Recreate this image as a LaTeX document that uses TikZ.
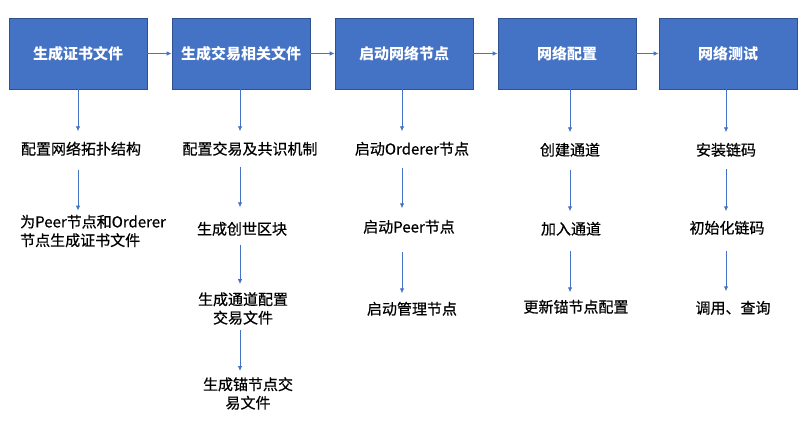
\documentclass[tikz,border=0pt]{standalone}
\usepackage{fontspec}
\setmainfont{Noto Sans CJK SC}
\newfontfamily\bodyfont{Noto Sans CJK SC}[FakeBold=0.6]
\usetikzlibrary{arrows.meta}
\definecolor{boxblue}{HTML}{4472C4}
\definecolor{boxedge}{HTML}{2F528F}
\tikzset{
  stagebox/.style={draw=boxedge, line width=0.8pt, fill=boxblue, minimum width=138pt, minimum height=71pt, inner sep=0pt, text=white, font=\fontsize{15pt}{18pt}\selectfont\bfseries},
  steptext/.style={inner sep=0pt, text height=12pt, text depth=3pt, font=\bodyfont\fontsize{15pt}{19pt}\selectfont, align=center},
  steptwo/.style={inner sep=0pt, font=\bodyfont\fontsize{15pt}{18.5pt}\selectfont, align=center},
  flow/.style={draw=boxblue, line width=0.9pt, -{Latex[length=5pt,width=4.5pt]}}
}
\begin{document}
\begin{tikzpicture}[x=1pt,y=-1pt]
\useasboundingbox (0,0) rectangle (808,433);
% stage boxes
\node[stagebox] (b1) at (78,53.5) {生成证书文件};
\node[stagebox] (b2) at (241,53.5) {生成交易相关文件};
\node[stagebox] (b3) at (404,53.5) {启动网络节点};
\node[stagebox] (b4) at (567,53.5) {网络配置};
\node[stagebox] (b5) at (728,53.5) {网络测试};
\draw[flow] (b1) -- (b2);
\draw[flow] (b2) -- (b3);
\draw[flow] (b3) -- (b4);
\draw[flow] (b4) -- (b5);
% column 1
\node[steptext] (t11) at (81,150) {配置网络拓扑结构};
\node[steptwo, align=left, anchor=west] (t12) at (20,231) {为Peer节点和Orderer\\节点生成证书文件};
% column 2
\node[steptext] (t21) at (250,150) {配置交易及共识机制};
\node[steptext] (t22) at (242,230) {生成创世区块};
\node[steptwo] (t23) at (243,308.5) {生成通道配置\\交易文件};
\node[steptwo] (t24) at (248,393.5) {生成锚节点交\\易文件};
% column 3
\node[steptext] (t31) at (412,150) {启动Orderer节点};
\node[steptext] (t32) at (409,228) {启动Peer节点};
\node[steptext] (t33) at (412,310) {启动管理节点};
% column 4
\node[steptext] (t41) at (570,151) {创建通道};
\node[steptext] (t42) at (571,230) {加入通道};
\node[steptext] (t43) at (576,308) {更新锚节点配置};
% column 5
\node[steptext] (t51) at (726,151) {安装链码};
\node[steptext] (t52) at (727,229) {初始化链码};
\node[steptext] (t53) at (733,309) {调用、查询};
% vertical arrows column 1
\draw[flow, shorten >=11pt] (b1.south) -- (b1.south |- t11.north);
\draw[flow, shorten <=12pt, shorten >=4pt] (b1.south |- t11.south) -- (b1.south |- t12.north);
% column 2
\draw[flow, shorten >=11pt] ([xshift=-1pt]b2.south) -- ([xshift=-1pt]b2.south |- t21.north);
\draw[flow, shorten <=9pt, shorten >=15pt] ([xshift=-1pt]b2.south |- t21.south) -- ([xshift=-1pt]b2.south |- t22.north);
\draw[flow, shorten <=7pt, shorten >=8pt] ([xshift=-1pt]b2.south |- t22.south) -- ([xshift=-1pt]b2.south |- t23.north);
\draw[flow, shorten <=5pt, shorten >=6pt] ([xshift=-1pt]b2.south |- t23.south) -- ([xshift=-1pt]b2.south |- t24.north);
% column 3
\draw[flow, shorten >=11pt] ([xshift=-2pt]b3.south) -- ([xshift=-2pt]b3.south |- t31.north);
\draw[flow, shorten <=10pt, shorten >=12pt] ([xshift=-2pt]b3.south |- t31.south) -- ([xshift=-2pt]b3.south |- t32.north);
\draw[flow, shorten <=16pt, shorten >=9pt] ([xshift=-2pt]b3.south |- t32.south) -- ([xshift=-2pt]b3.south |- t33.north);
% column 4
\draw[flow, shorten >=11pt] ([xshift=3pt]b4.south) -- ([xshift=3pt]b4.south |- t41.north);
\draw[flow, shorten <=11pt, shorten >=11pt] ([xshift=3pt]b4.south |- t41.south) -- ([xshift=3pt]b4.south |- t42.north);
\draw[flow, shorten <=13pt, shorten >=8pt] ([xshift=3pt]b4.south |- t42.south) -- ([xshift=3pt]b4.south |- t43.north);
% column 5
\draw[flow, shorten >=11pt] ([xshift=-2pt]b5.south) -- ([xshift=-2pt]b5.south |- t51.north);
\draw[flow, shorten <=10pt, shorten >=10pt] ([xshift=-2pt]b5.south |- t51.south) -- ([xshift=-2pt]b5.south |- t52.north);
\draw[flow, shorten <=14pt, shorten >=10pt] ([xshift=-2pt]b5.south |- t52.south) -- ([xshift=-2pt]b5.south |- t53.north);
\end{tikzpicture}
\end{document}
